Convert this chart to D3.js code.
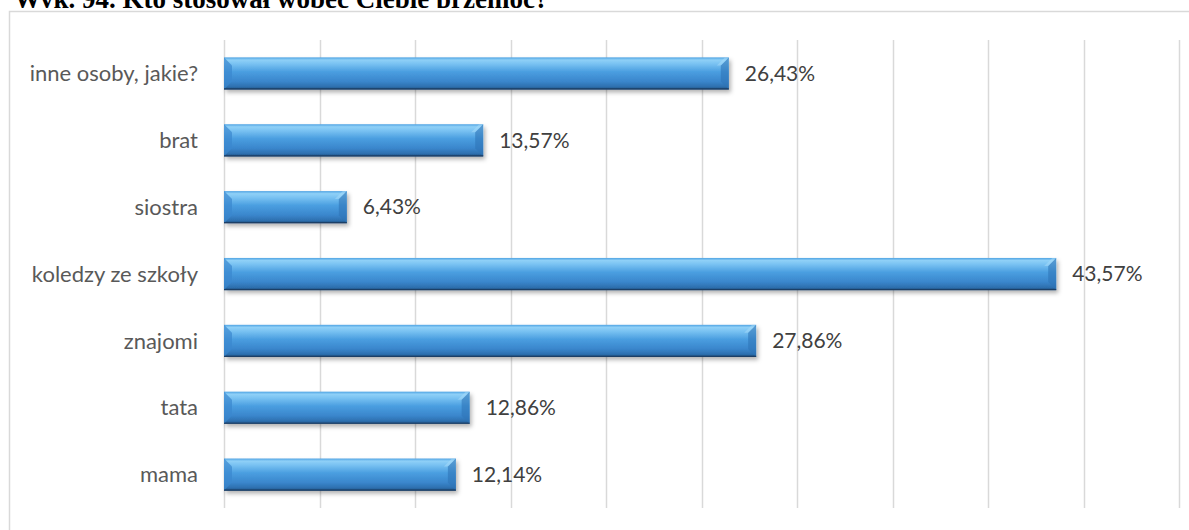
<!DOCTYPE html>
<html><head><meta charset="utf-8">
<script src="https://cdn.jsdelivr.net/npm/d3@7"></script>
<style>
html,body{margin:0;padding:0;background:#fff;overflow:hidden}
</style></head>
<body>
<svg id="c" width="1189" height="530"></svg>
<script>
const title = "Wyk. 94. Kto stosował wobec Ciebie przemoc?";
const categories = ["inne osoby, jakie?", "brat", "siostra", "koledzy ze szkoły", "znajomi", "tata", "mama"];
const values = [26.43, 13.57, 6.43, 43.57, 27.86, 12.86, 12.14];
const gridTicks = [0, 5, 10, 15, 20, 25, 30, 35, 40, 45, 50];

(function () {
const svg = d3.select("#c");
const W = 1189, H = 530;
const mLeft = 224, mRight = 1179, mTop = 40, mBottom = 508;

const x = d3.scaleLinear().domain([0, 50]).range([mLeft, mRight]);
const y = d3.scaleBand().domain(categories).range([mTop, mBottom]).paddingInner(0.52).paddingOuter(0.26);

const defs = svg.append("defs");
const g = defs.append("linearGradient").attr("id", "barG").attr("x1", 0).attr("y1", 0).attr("x2", 0).attr("y2", 1);
[[0, "#4fa3e3"], [0.08, "#8fd0f7"], [0.2, "#79c2f2"], [0.45, "#4a9ee0"], [0.75, "#3a86cc"], [0.92, "#2d6fae"], [1, "#1d4a78"]]
  .forEach(([o, c]) => g.append("stop").attr("offset", o).attr("stop-color", c));
const f = defs.append("filter").attr("id", "sh").attr("x", "-5%").attr("y", "-20%").attr("width", "110%").attr("height", "160%");
f.append("feDropShadow").attr("dx", 2).attr("dy", 3).attr("stdDeviation", 2).attr("flood-color", "#000").attr("flood-opacity", 0.3);

// title (lower part hidden behind the chart area, as in the reference)
svg.append("text").attr("x", 14).attr("y", 7.5).text(title)
  .attr("font-family", "'Liberation Serif', 'Times New Roman', serif").attr("font-weight", "bold")
  .attr("font-size", "27px").attr("fill", "#000");
svg.append("rect").attr("x", 0).attr("y", 8).attr("width", W).attr("height", H).attr("fill", "#fff");

svg.append("rect").attr("x", 9.5).attr("y", 11.5).attr("width", W + 10).attr("height", H + 10)
  .attr("fill", "none").attr("stroke", "#d9d9d9").attr("stroke-width", 1.5);

svg.append("g").selectAll("line").data(gridTicks).join("line")
  .attr("x1", d => Math.round(x(d)) + 0.5).attr("x2", d => Math.round(x(d)) + 0.5)
  .attr("y1", mTop).attr("y2", mBottom)
  .attr("stroke", "#d9d9d9").attr("stroke-width", 1.5);

const bh = y.bandwidth();
const bars = svg.append("g").selectAll("g").data(categories).join("g");
bars.append("rect")
  .attr("x", x(0)).attr("y", d => y(d))
  .attr("width", (d, i) => x(values[i]) - x(0)).attr("height", bh)
  .attr("fill", "url(#barG)").attr("filter", "url(#sh)");
const bv = 8;
bars.append("path")
  .attr("d", (d, i) => {
    const x1 = x(values[i]), y0 = y(d);
    return `M${x1},${y0} L${x1 - bv},${y0 + bv} L${x1 - bv},${y0 + bh - bv} L${x1},${y0 + bh} Z`;
  })
  .attr("fill", "#2f74b8").attr("opacity", 0.6);
bars.append("path")
  .attr("d", (d, i) => {
    const x1 = x(values[i]), y0 = y(d);
    return `M${x1},${y0} L${x1 - bv},${y0 + bv} L${x1 - bv - 4},${y0 + bv} L${x1 - 4},${y0} Z`;
  })
  .attr("fill", "#a7dcf9").attr("opacity", 0.5);
bars.append("path")
  .attr("d", (d, i) => {
    const x0 = x(0), y0 = y(d);
    return `M${x0},${y0} L${x0 + bv},${y0 + bv} L${x0 + bv},${y0 + bh - bv} L${x0},${y0 + bh} Z`;
  })
  .attr("fill", "#3a88cf").attr("opacity", 0.7);
bars.append("line")
  .attr("x1", x(0)).attr("x2", (d, i) => x(values[i]))
  .attr("y1", d => y(d) + bh - 0.5).attr("y2", d => y(d) + bh - 0.5)
  .attr("stroke", "#1c3f66").attr("stroke-width", 1.2);

bars.append("text")
  .attr("x", (d, i) => x(values[i]) + 16).attr("y", d => y(d) + bh / 2)
  .attr("dy", "0.35em")
  .text((d, i) => values[i].toFixed(2).replace(".", ",") + "%")
  .attr("font-family", "Lato, 'Open Sans', sans-serif").attr("font-size", "21px").attr("fill", "#404040");

svg.append("g").selectAll("text").data(categories).join("text")
  .attr("x", 198).attr("y", d => y(d) + bh / 2).attr("dy", "0.35em")
  .attr("text-anchor", "end").text(d => d)
  .attr("font-family", "Lato, 'Open Sans', sans-serif").attr("font-size", "22px").attr("fill", "#595959");
})();
</script>
</body></html>
